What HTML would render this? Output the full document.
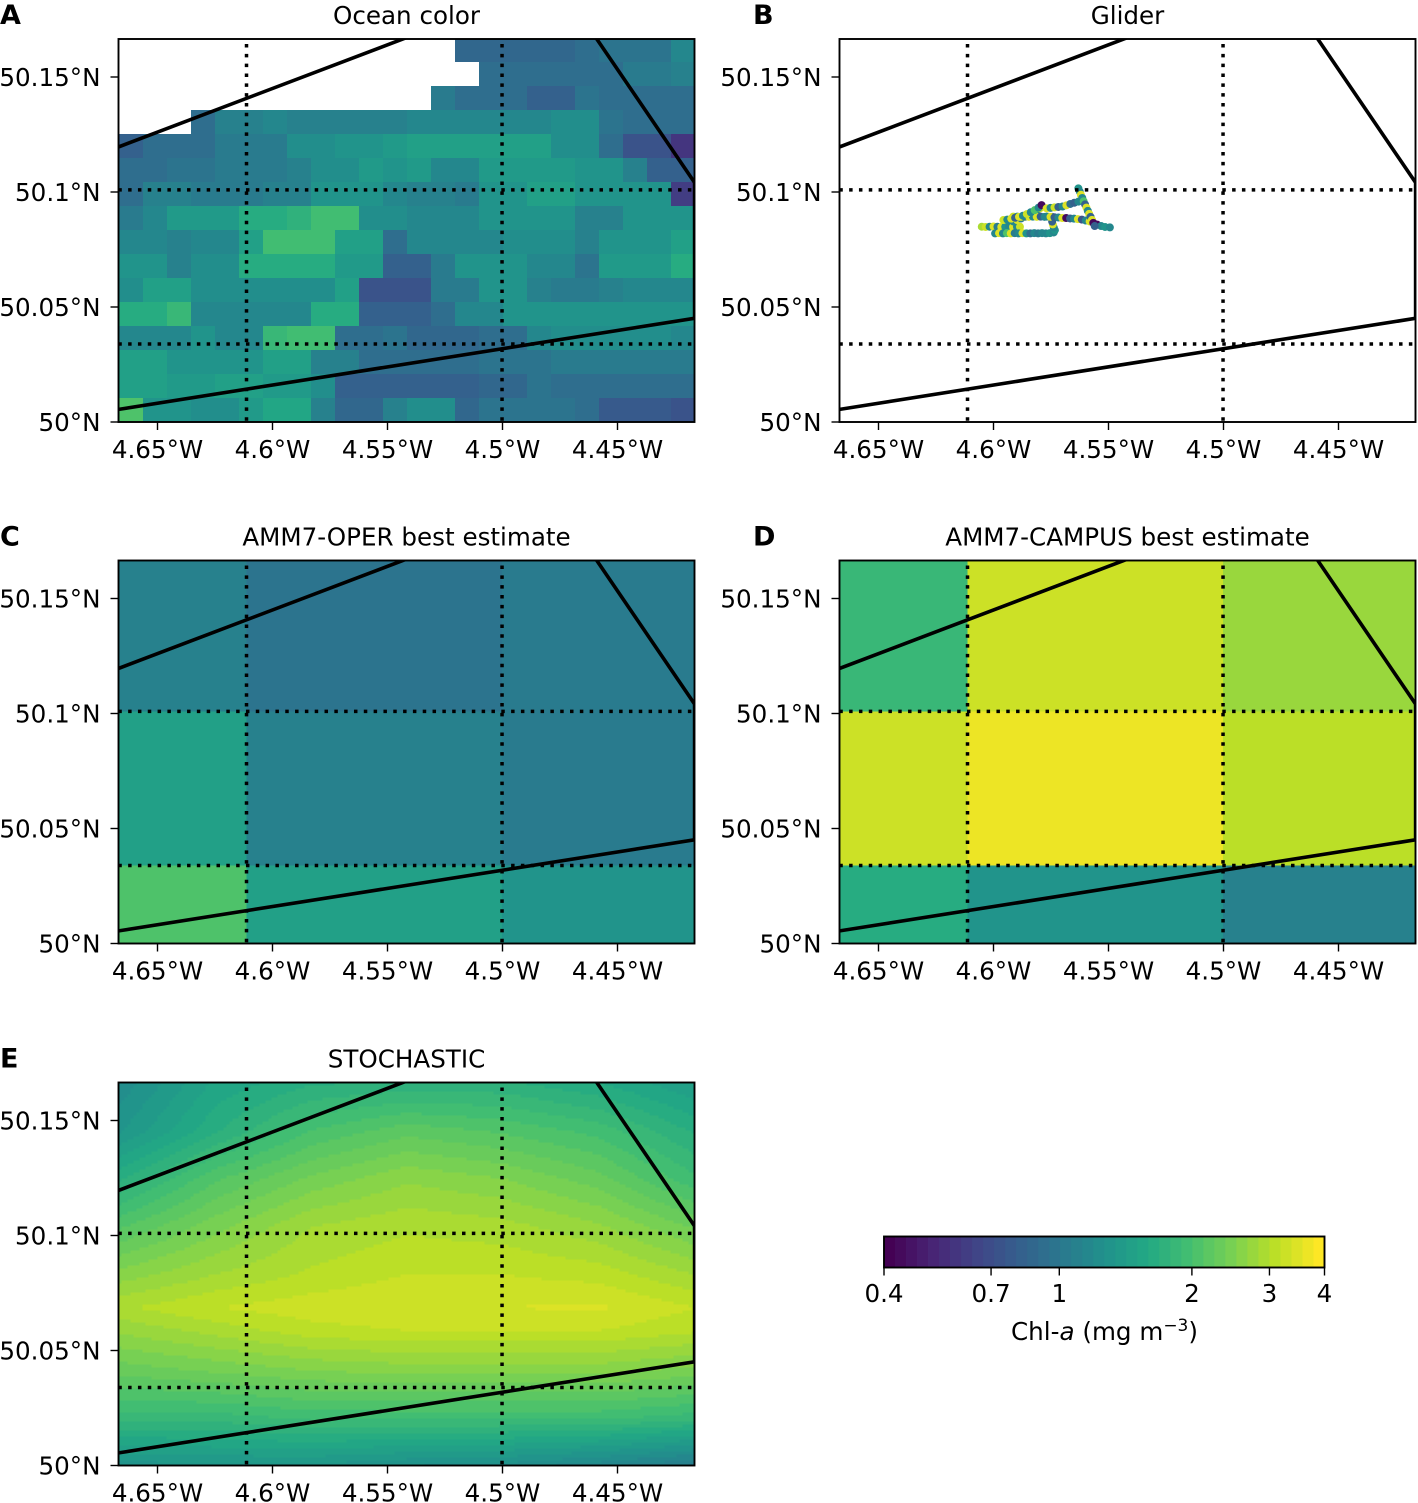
<!DOCTYPE html>
<html lang="en">
<head>
<meta charset="utf-8">
<title>Chl-a comparison maps</title>
<style>
html,body{margin:0;padding:0;background:#fff;}
svg{display:block;}
text{font-family:"DejaVu Sans","Liberation Sans",sans-serif;fill:#000;}
</style>
</head>
<body>
<svg id="figure" xmlns="http://www.w3.org/2000/svg" width="1418" height="1503" viewBox="0 0 1418 1503"></svg>
<script>
// ---------- Shared axis data ----------
const lonTicks = [-4.65, -4.6, -4.55, -4.5, -4.45];
const lonTickLabels = ['4.65°W', '4.6°W', '4.55°W', '4.5°W', '4.45°W'];
const latTicks = [50, 50.05, 50.1, 50.15];
const latTickLabels = ['50°N', '50.05°N', '50.1°N', '50.15°N'];
const lonRange = [-4.6669, -4.4165];
const latRange = [50, 50.1665];

// Domain outline (lon, lat) and dotted model-grid lines
const outlineLon = [-4.6669, -4.5318, -4.4620, -4.4165, -4.4165, -4.6669];
const outlineLat = [50.1196, 50.1709, 50.1709, 50.1041, 50.0451, 50.0055];
const gridLineLon = [-4.6113, -4.5002];
const gridLineLat = [50.1009, 50.0339];

// Colour scale
const colorMin = 0.4;
const colorMax = 4;
const colorSteps = 40;
const colorbarTicks = [0.4, 0.7, 1, 2, 3, 4];
const colorbarTickLabels = ['0.4', '0.7', '1', '2', '3', '4'];
const viridisStops = ['#440154','#482475','#414487','#355f8d','#2a788e','#21918c','#22a884','#44bf70','#7ad151','#bddf26','#fde725'];

// ---------- Panel A: ocean colour, percent position on the log colour scale (top row first) ----------
const oceanLon0 = -4.66674;
const oceanCellDeg = 0.010435;
const oceanRow00 = [null,null,null,null,null,null,null,null,null,null,null,null,null,null,34,34,34,34,34,36,38,38,38,47];
const oceanRow01 = [null,null,null,null,null,null,null,null,null,null,null,null,null,null,null,35,35,35,35,35,36,40,40,43];
const oceanRow02 = [null,null,null,null,null,null,null,null,null,null,null,null,null,42,37,37,37,32,32,38,35,35,37,37];
const oceanRow03 = [null,null,null,37,44,44,46,44,44,44,44,44,46,46,46,46,46,46,48,48,38,36,36,36];
const oceanRow04 = [30,35,35,35,42,42,42,49,49,51,51,53,55,55,55,55,55,55,49,49,37,25,25,17];
const oceanRow05 = [36,36,39,39,40,40,40,43,48,48,53,50,53,46,46,54,54,54,53,50,50,43,30,30];
const oceanRow06 = [36,44,44,42,42,42,44,44,52,52,52,47,44,44,42,52,52,57,57,50,50,50,50,18];
const oceanRow07 = [42,46,54,54,54,60,60,63,68,68,48,48,45,45,45,50,50,50,50,44,44,50,50,50];
const oceanRow08 = [47,47,44,47,47,56,68,68,68,56,56,37,45,45,45,45,49,49,49,44,52,52,52,55];
const oceanRow09 = [50,50,44,48,48,62,62,62,62,53,53,30,30,41,52,52,50,45,45,38,54,54,54,62];
const oceanRow10 = [49,55,55,48,48,49,49,49,49,56,27,26,26,42,42,50,50,44,42,42,44,46,46,46];
const oceanRow11 = [60,60,66,45,45,47,47,47,62,62,31,31,31,36,46,46,52,52,52,50,50,50,50,50];
const oceanRow12 = [46,46,46,50,47,47,66,69,69,37,37,38,34,34,34,37,37,47,48,48,48,48,48,45];
const oceanRow13 = [56,56,52,52,52,52,55,55,43,43,36,37,37,37,37,38,38,38,40,40,40,40,40,40];
const oceanRow14 = [55,55,53,53,56,56,54,54,48,31,31,32,32,32,32,33,33,39,37,37,37,37,35,35];
const oceanRow15 = [70,50,50,48,48,53,58,58,43,33,33,44,49,49,33,38,38,38,38,36,28,28,28,25];
const oceanRows = [oceanRow00,oceanRow01,oceanRow02,oceanRow03,oceanRow04,oceanRow05,oceanRow06,oceanRow07,oceanRow08,oceanRow09,oceanRow10,oceanRow11,oceanRow12,oceanRow13,oceanRow14,oceanRow15];

// ---------- Panel B: glider track ----------
const gliderLon = [-4.6051,-4.6034,-4.6017,-4.6000,-4.5983,-4.5966,-4.5949,-4.5932,-4.5915,-4.5898,-4.5885,
-4.5993,-4.5976,-4.5959,-4.5942,-4.5925,-4.5908,-4.5891,-4.5874,-4.5857,-4.5840,-4.5823,-4.5806,-4.5789,-4.5772,-4.5755,-4.5738,
-4.5733,-4.5738,-4.5742,-4.5745,
-4.5914,-4.5897,-4.5880,-4.5863,-4.5846,-4.5829,-4.5812,-4.5798,
-4.5914,-4.5897,-4.5880,-4.5863,-4.5846,-4.5829,-4.5812,-4.5795,-4.5778,-4.5761,-4.5745,
-4.5957,-4.5940,-4.5923,-4.5906,-4.5889,-4.5872,-4.5855,-4.5838,-4.5821,-4.5804,-4.5791,
-4.5769,-4.5752,-4.5735,-4.5718,-4.5701,-4.5684,-4.5667,-4.5650,-4.5633,-4.5616,-4.5599,-4.5582,-4.5566,-4.5549,-4.5532,-4.5515,-4.5494,
-4.5769,-4.5752,-4.5735,-4.5718,-4.5700,-4.5683,-4.5666,-4.5649,-4.5631,
-4.5631,-4.5625,-4.5620,-4.5614,-4.5608,-4.5602,-4.5596,-4.5590,-4.5584,-4.5578,-4.5572,-4.5566,-4.5560];
const gliderLat = [50.0849,50.0848,50.0849,50.0850,50.0849,50.0848,50.0849,50.0849,50.0848,50.0849,50.0849,
50.0820,50.0821,50.0820,50.0821,50.0820,50.0821,50.0820,50.0821,50.0820,50.0820,50.0821,50.0820,50.0821,50.0820,50.0821,50.0824,
50.0834,50.0846,50.0859,50.0871,
50.0872,50.0878,50.0885,50.0892,50.0900,50.0908,50.0918,50.0929,
50.0893,50.0893,50.0892,50.0893,50.0892,50.0893,50.0892,50.0893,50.0892,50.0893,50.0892,
50.0878,50.0880,50.0884,50.0888,50.0892,50.0897,50.0904,50.0912,50.0921,50.0932,50.0943,
50.0893,50.0892,50.0890,50.0889,50.0887,50.0887,50.0885,50.0884,50.0882,50.0880,50.0876,50.0872,50.0866,50.0858,50.0852,50.0848,50.0846,
50.0929,50.0931,50.0933,50.0935,50.0937,50.0942,50.0948,50.0953,50.0958,
50.1016,50.1002,50.0988,50.0974,50.0960,50.0946,50.0932,50.0918,50.0905,50.0892,50.0879,50.0866,50.0852];
const gliderLevel = [85,90,45,93,40,93,50,45,93,45,92,
45,93,45,70,93,40,45,93,50,35,45,42,45,45,50,47,
52,45,93,30,
45,93,40,93,30,93,45,92,
92,45,93,40,93,45,93,30,45,93,30,
92,45,93,30,93,45,92,45,70,45,3,
45,93,30,45,93,3,30,45,93,25,45,93,30,3,45,50,47,
93,45,92,30,45,93,35,30,45,
50,45,93,45,70,30,93,45,93,30,93,3,30];

// ---------- Panels C / D: AMM7 best estimates, coarse cells ----------
const ammLonEdges = [-4.6669, -4.6113, -4.5002, -4.4165];
const ammLatEdges = [50.1665, 50.1009, 50.0339, 50];
const operRow1 = [44, 38, 42];
const operRow2 = [55, 44, 42];
const operRow3 = [70, 55, 52];
const operRows = [operRow1, operRow2, operRow3];
const campusRow1 = [65, 91, 83];
const campusRow2 = [91, 96, 88];
const campusRow3 = [60, 52, 44];
const campusRows = [campusRow1, campusRow2, campusRow3];

// ---------- Panel E: STOCHASTIC field on coarse nodes ----------
const stochLon = [-4.6669, -4.6250, -4.5833, -4.5417, -4.5000, -4.4583, -4.4165];
const stochLat = [50.1665, 50.1456, 50.1248, 50.1039, 50.0830, 50.0687, 50.0587, 50.0413, 50.0204, 50];
const stochRow0 = [48, 58, 62, 63, 63, 60, 55];
const stochRow1 = [52, 62, 70, 74, 72, 69, 62];
const stochRow2 = [62, 72, 78, 82, 80, 76, 68];
const stochRow3 = [72, 79, 85, 87, 86, 83, 77];
const stochRow4 = [81, 85, 88, 90, 90, 89, 85];
const stochRow5 = [87, 90, 91.5, 92.5, 92.5, 93, 90];
const stochRow6 = [83, 86, 89, 90, 90, 90, 88];
const stochRow7 = [76, 78, 80, 81, 81, 81, 79];
const stochRow8 = [66, 66, 68, 68, 68, 68, 66];
const stochRow9 = [51, 52, 52, 50, 49, 46, 42];
const stochRows = [stochRow0,stochRow1,stochRow2,stochRow3,stochRow4,stochRow5,stochRow6,stochRow7,stochRow8,stochRow9];

// ---------- Helpers ----------
const NS = 'http://www.w3.org/2000/svg';
const svg = document.getElementById('figure');
const AX_W = 576, AX_H = 383, PX_PER_DEG = 2300;
const FONT = 24.6;

function make(tag, parent, attrs) {
  const el = document.createElementNS(NS, tag);
  for (const k in attrs) el.setAttribute(k, attrs[k]);
  parent.appendChild(el);
  return el;
}
function hexToRgb(h) {
  return [parseInt(h.slice(1,3),16), parseInt(h.slice(3,5),16), parseInt(h.slice(5,7),16)];
}
function viridis(t) {
  const p = Math.max(0, Math.min(1, t)) * (viridisStops.length - 1);
  const i = Math.min(viridisStops.length - 2, Math.floor(p));
  const a = hexToRgb(viridisStops[i]), b = hexToRgb(viridisStops[i + 1]), f = p - i;
  return 'rgb(' + a.map((v, n) => Math.round(v + (b[n] - v) * f)).join(',') + ')';
}
function levelColor(level) {
  const idx = Math.max(0, Math.min(colorSteps - 1, Math.floor(level / 100 * colorSteps)));
  return viridis(idx / (colorSteps - 1));
}
function xScale(px0) { return lon => px0 + 39 + (lon - lonTicks[0]) * PX_PER_DEG; }
function yScale(py0) { return lat => py0 + AX_H - (lat - latRange[0]) * PX_PER_DEG; }

function addText(parent, x, y, str, size, anchor, weight) {
  const t = make('text', parent, {x: x, y: y, 'font-size': size, 'text-anchor': anchor});
  if (weight) t.setAttribute('font-weight', weight);
  t.textContent = str;
  return t;
}

// Draw axes, overlay lines, ticks and labels for a panel
function drawOverlay(g, px0, py0, title, letter, letterX, slug) {
  const x = xScale(px0), y = yScale(py0);

  const outlinePts = outlineLon.map((lon, i) => x(lon).toFixed(1) + ',' + y(outlineLat[i]).toFixed(1)).join(' ');
  const outline = make('polyline', g, {points: outlinePts, fill: 'none', stroke: '#000', 'stroke-width': 3.6, 'clip-path': 'url(#clip-' + slug + ')'});
  
  

  gridLineLon.forEach(lon => {
    const l = make('line', g, {x1: x(lon), x2: x(lon), y1: py0 + AX_H - 1.3, y2: py0, stroke: '#000', 'stroke-width': 3.5, 'stroke-dasharray': '3.5 6.32'});
    
    
  });
  gridLineLat.forEach(lat => {
    const l = make('line', g, {x1: px0 - 0.2, x2: px0 + AX_W, y1: y(lat), y2: y(lat), stroke: '#000', 'stroke-width': 3.5, 'stroke-dasharray': '3.5 6.32'});
    
    
  });

  const frame = make('rect', g, {x: px0, y: py0, width: AX_W, height: AX_H, fill: 'none', stroke: '#000', 'stroke-width': 1.9});
  
  

  lonTicks.forEach((lon, i) => {
    const tick = make('line', g, {x1: x(lon), x2: x(lon), y1: py0 + AX_H, y2: py0 + AX_H + 8, stroke: '#000', 'stroke-width': 1.4});
    
    
    const label = addText(g, x(lon), py0 + AX_H + 36, lonTickLabels[i], FONT, 'middle');
    
    
  });
  latTicks.forEach((lat, i) => {
    const tick = make('line', g, {x1: px0 - 8, x2: px0, y1: y(lat), y2: y(lat), stroke: '#000', 'stroke-width': 1.4});
    
    
    const label = addText(g, px0 - 18, y(lat) + 9.2, latTickLabels[i], FONT, 'end');
    
    
  });

  const titleEl = addText(g, px0 + AX_W / 2, py0 - 15, title, FONT, 'middle');
  
  
  const letterEl = addText(g, letterX, py0 - 15, letter, 27, 'start', 'bold');
  
  
}

function makePanel(px0, py0, slug) {
  const g = make('g', svg, {});
  
  
  const cp = make('clipPath', g, {id: 'clip-' + slug});
  make('rect', cp, {x: px0, y: py0, width: AX_W, height: AX_H});
  const cells = make('g', g, {'clip-path': 'url(#clip-' + slug + ')', 'shape-rendering': 'crispEdges'});
  
  
  return {g: g, cells: cells};
}

function drawCoarse(cells, px0, py0, rows) {
  const x = xScale(px0), y = yScale(py0);
  rows.forEach((row, r) => {
    row.forEach((level, c) => {
      const rect = make('rect', cells, {
        x: x(ammLonEdges[c]), y: y(ammLatEdges[r]),
        width: x(ammLonEdges[c + 1]) - x(ammLonEdges[c]),
        height: y(ammLatEdges[r + 1]) - y(ammLatEdges[r]),
        fill: levelColor(level)
      });
      
      
    });
  });
}

// ---------- Panel A ----------
(function () {
  const px0 = 118.5, py0 = 39;
  const p = makePanel(px0, py0, 'ocean-color');
  const x = xScale(px0), y = yScale(py0);
  const nRows = oceanRows.length;
  oceanRows.forEach((row, r) => {
    row.forEach((level, c) => {
      if (level === null) return;
      const lon = oceanLon0 + c * oceanCellDeg;
      const latTop = latRange[0] + (nRows - r) * oceanCellDeg;
      const rect = make('rect', p.cells, {
        x: x(lon), y: y(latTop),
        width: oceanCellDeg * PX_PER_DEG, height: oceanCellDeg * PX_PER_DEG,
        fill: levelColor(level)
      });
      
      
    });
  });
  drawOverlay(p.g, px0, py0, 'Ocean color', 'A', 0, 'ocean-color');
})();

// ---------- Panel B ----------
(function () {
  const px0 = 839.5, py0 = 39;
  const p = makePanel(px0, py0, 'glider');
  const x = xScale(px0), y = yScale(py0);
  const pts = make('g', p.g, {});
  
  
  gliderLon.forEach((lon, i) => {
    const c = make('circle', pts, {cx: x(lon), cy: y(gliderLat[i]), r: 4, fill: levelColor(gliderLevel[i])});
    
    
  });
  drawOverlay(p.g, px0, py0, 'Glider', 'B', 753, 'glider');
})();

// ---------- Panel C ----------
(function () {
  const p = makePanel(118.5, 560.5, 'amm7-oper');
  drawCoarse(p.cells, 118.5, 560.5, operRows);
  drawOverlay(p.g, 118.5, 560.5, 'AMM7-OPER best estimate', 'C', 0, 'amm7-oper');
})();

// ---------- Panel D ----------
(function () {
  const p = makePanel(839.5, 560.5, 'amm7-campus');
  drawCoarse(p.cells, 839.5, 560.5, campusRows);
  drawOverlay(p.g, 839.5, 560.5, 'AMM7-CAMPUS best estimate', 'D', 753, 'amm7-campus');
})();

// ---------- Panel E ----------
(function () {
  const px0 = 118.5, py0 = 1082.5;
  const p = makePanel(px0, py0, 'stochastic');
  const x = xScale(px0), y = yScale(py0);
  function sample(lon, lat) {
    let c = 0, r = 0;
    while (c < stochLon.length - 2 && lon > stochLon[c + 1]) c++;
    while (r < stochLat.length - 2 && lat < stochLat[r + 1]) r++;
    const fx = Math.max(0, Math.min(1, (lon - stochLon[c]) / (stochLon[c + 1] - stochLon[c])));
    const fy = Math.max(0, Math.min(1, (lat - stochLat[r]) / (stochLat[r + 1] - stochLat[r])));
    const a = stochRows[r][c] + (stochRows[r][c + 1] - stochRows[r][c]) * fx;
    const b = stochRows[r + 1][c] + (stochRows[r + 1][c + 1] - stochRows[r + 1][c]) * fx;
    return a + (b - a) * fy;
  }
  const step = 3;
  for (let py = 0; py < AX_H; py += step) {
    const lat = latRange[0] + (AX_H - py - step / 2) / PX_PER_DEG;
    let runStart = 0, runColor = null;
    for (let pxx = 0; pxx <= AX_W; pxx += step) {
      const lon = lonTicks[0] + (pxx + step / 2 - 39) / PX_PER_DEG;
      const col = pxx < AX_W ? levelColor(sample(lon, lat)) : null;
      if (col !== runColor) {
        if (runColor !== null) {
          const rect = make('rect', p.cells, {x: px0 + runStart, y: py0 + py, width: pxx - runStart, height: step, fill: runColor});
          
          
        }
        runStart = pxx;
        runColor = col;
      }
    }
  }
  drawOverlay(p.g, px0, py0, 'STOCHASTIC', 'E', 0, 'stochastic');
})();

// ---------- Colour bar ----------
(function () {
  const left = 884, width = 440.5, top = 1236.5, height = 31;
  const g = make('g', svg, {});
  
  
  const cbx = v => left + Math.log10(v / colorMin) / Math.log10(colorMax / colorMin) * width;
  for (let i = 0; i < colorSteps; i++) {
    const rect = make('rect', g, {x: left + i * width / colorSteps, y: top, width: width / colorSteps + 0.4, height: height, fill: viridis(i / (colorSteps - 1))});
    
    
  }
  const frame = make('rect', g, {x: left, y: top, width: width, height: height, fill: 'none', stroke: '#000', 'stroke-width': 1.9});
  
  
  colorbarTicks.forEach((v, i) => {
    const tick = make('line', g, {x1: cbx(v), x2: cbx(v), y1: top + height, y2: top + height + 8, stroke: '#000', 'stroke-width': 1.4});
    
    
    const label = addText(g, cbx(v), 1302, colorbarTickLabels[i], FONT, 'middle');
    
    
  });
  const title = make('text', g, {x: 1104.5, y: 1340, 'font-size': FONT, 'text-anchor': 'middle'});
  
  
  const s1 = make('tspan', title, {});
  s1.textContent = 'Chl-';
  const s2 = make('tspan', title, {'font-style': 'italic'});
  s2.textContent = 'a';
  const s3 = make('tspan', title, {});
  s3.textContent = ' (mg m';
  const s4 = make('tspan', title, {dy: -9, 'font-size': 17});
  s4.textContent = '−3';
  const s5 = make('tspan', title, {dy: 9});
  s5.textContent = ')';
})();
</script>
</body>
</html>
